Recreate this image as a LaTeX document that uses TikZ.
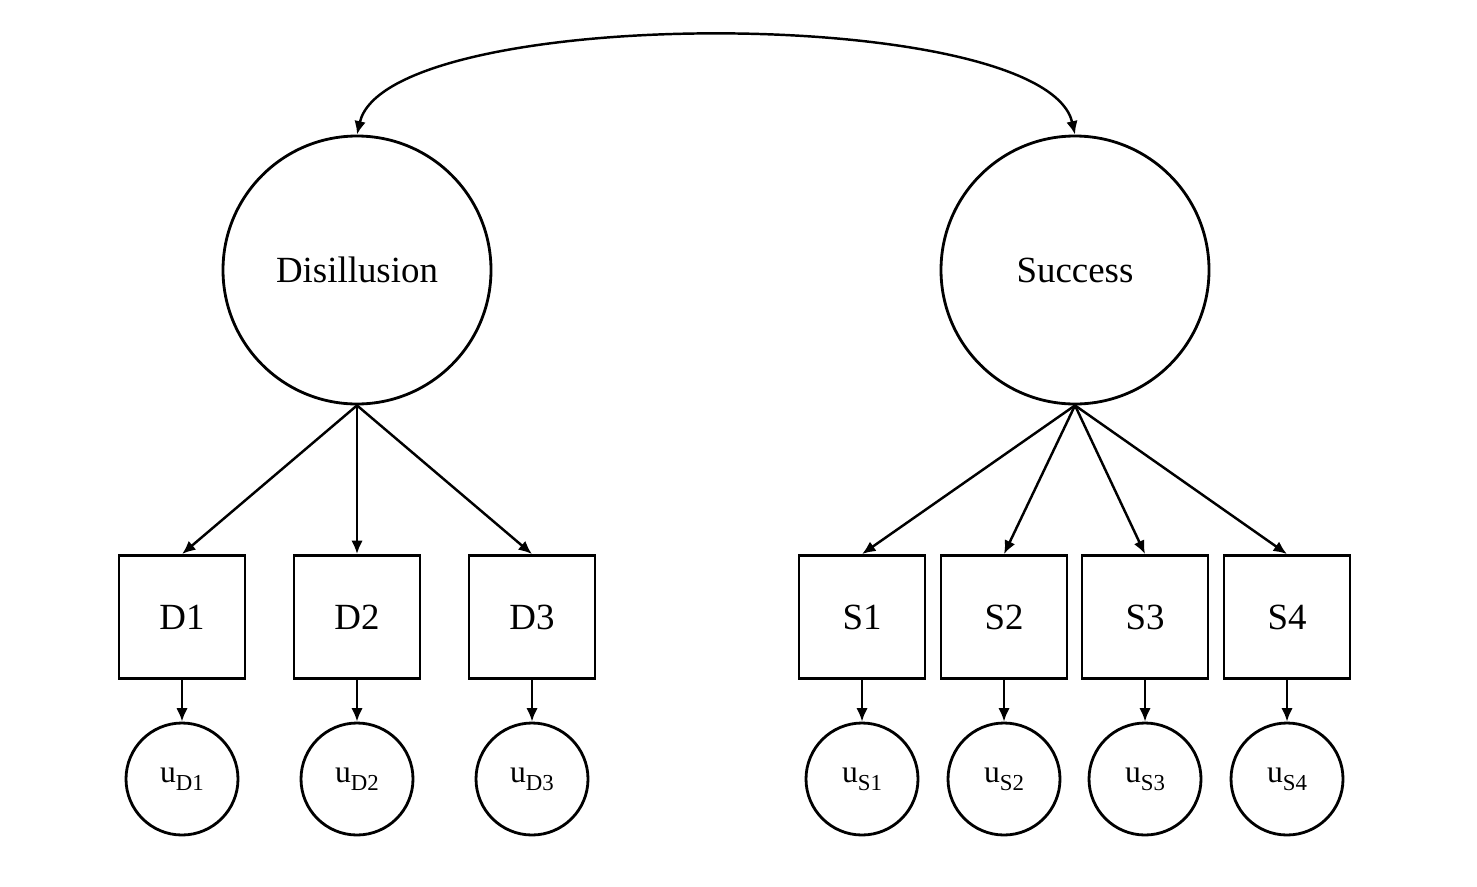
\documentclass[tikz,border=0pt]{standalone}
\usepackage{fontspec}
\setmainfont{Liberation Serif}
\usetikzlibrary{arrows.meta}
\newcommand{\errsub}[1]{\raisebox{-0.55ex}{\fontsize{13}{15}\selectfont #1}}

\begin{document}
\begin{tikzpicture}[font=\fontsize{21}{25}\selectfont,
  latent/.style={circle,draw,line width=1.6pt,minimum size=5.36cm,inner sep=0pt},
  indic/.style={rectangle,draw,line width=1.6pt,minimum width=2.52cm,minimum height=2.46cm,inner sep=0pt},
  errc/.style={circle,draw,line width=1.6pt,minimum size=2.24cm,inner sep=0pt,font=\fontsize{18}{22}\selectfont},
  load/.style={line width=1.4pt,-{Latex[length=0.27cm,width=0.23cm]}}]
\useasboundingbox (0,0) rectangle (29.54,-17.72);

% ============ latent factors ============
\node[latent] (dis) at (7.14,-5.40) {Disillusion};
\node[latent] (suc) at (21.50,-5.40) {Success};
\draw[load,{Latex[length=0.27cm,width=0.23cm]}-{Latex[length=0.27cm,width=0.23cm]}]
  (dis.north) .. controls +(0.6,2.62) and +(-0.6,2.62) .. (suc.north);

% ============ Disillusion items ============
\foreach \n/\x in {1/3.64,2/7.14,3/10.64}{
  \node[indic] (D\n) at (\x,-12.34) {D\n};
  \node[errc] (uD\n) at (\x,-15.58) {u\errsub{D\n}};
  \draw[load] (dis.south) -- (D\n.north);
  \draw[load] (D\n.south) -- (uD\n.north);
}

% ============ Success items ============
\foreach \n/\x in {1/17.24,2/20.08,3/22.90,4/25.74}{
  \node[indic] (S\n) at (\x,-12.34) {S\n};
  \node[errc] (uS\n) at (\x,-15.58) {u\errsub{S\n}};
  \draw[load] (suc.south) -- (S\n.north);
  \draw[load] (S\n.south) -- (uS\n.north);
}

\end{tikzpicture}
\end{document}
